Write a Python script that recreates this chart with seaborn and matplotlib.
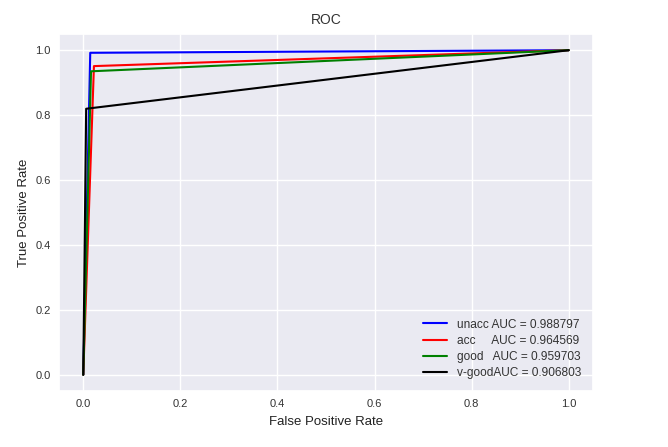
import matplotlib
matplotlib.use("Agg")
import matplotlib.pyplot as plt
import seaborn as sns
import pandas as pd

classes = ["unacc", "acc", "good", "v-good"]
auc_values = [0.988797, 0.964569, 0.959703, 0.906803]
fpr_lists = [[0.0, 0.0144, 1.0], [0.0, 0.022, 1.0], [0.0, 0.016, 1.0], [0.0, 0.006, 1.0]]
tpr_lists = [[0.0, 0.992, 1.0], [0.0, 0.951, 1.0], [0.0, 0.935, 1.0], [0.0, 0.8196, 1.0]]
label_texts = ["unacc AUC = 0.988797", "acc     AUC = 0.964569",
               "good   AUC = 0.959703", "v-goodAUC = 0.906803"]
colors = ["blue", "red", "green", "black"]

sns.set_theme(style="darkgrid", rc={"axes.facecolor": "#EAEAF2"})
plt.rcParams['font.family'] = ['Liberation Sans', 'DejaVu Sans']

fig = plt.figure(figsize=(6.68, 4.47), dpi=100)
ax = fig.add_axes([0.0883, 0.1253, 0.7994, 0.7987])

for i in range(len(classes)):
    df = pd.DataFrame({"fpr": fpr_lists[i], "tpr": tpr_lists[i]})
    sns.lineplot(data=df, x="fpr", y="tpr", ax=ax, color=colors[i],
                 label=label_texts[i], sort=False, estimator=None, linewidth=1.5)

ax.set_xlim(-0.05, 1.05)
ax.set_ylim(-0.05, 1.05)
ax.set_xticks([0.0, 0.2, 0.4, 0.6, 0.8, 1.0])
ax.set_yticks([0.0, 0.2, 0.4, 0.6, 0.8, 1.0])
ax.tick_params(labelsize=8, colors="#333333", length=0, pad=6)
ax.set_title("ROC", fontsize=10, color="#333333", pad=7)
ax.set_xlabel("False Positive Rate", fontsize=9.5, color="#222222", labelpad=5)
ax.set_ylabel("True Positive Rate", fontsize=9.5, color="#222222")
leg = ax.legend(loc="lower right", fontsize=8.6, frameon=False, labelspacing=0.35,
                handlelength=2.0, borderaxespad=0.6)
for t in leg.get_texts():
    t.set_color("#333333")

fig.savefig("out.png", dpi=100)
